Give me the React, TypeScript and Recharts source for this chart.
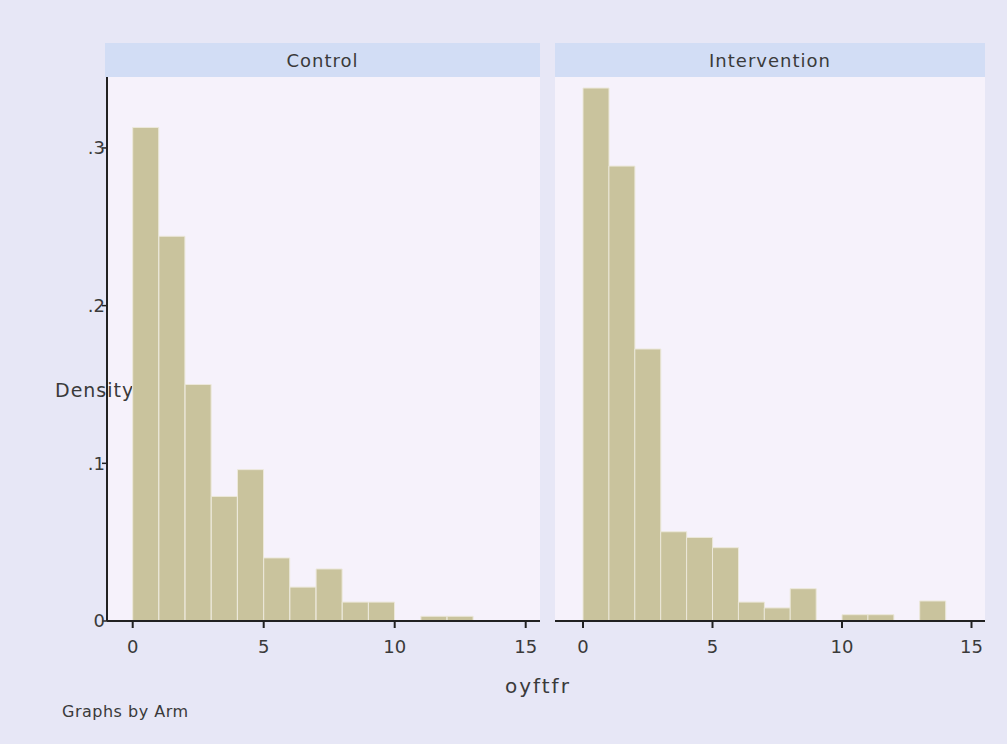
import React from "react";
import { BarChart, Bar, XAxis, YAxis } from "recharts";

const bins = ["0", "1", "2", "3", "4", "5", "6", "7", "8", "9", "10", "11", "12", "13", "14"];
const xTicks = [0, 5, 10, 15];
const yTicks = [0, 0.1, 0.2, 0.3];
const controlDensity = [0.313, 0.244, 0.15, 0.079, 0.096, 0.04, 0.0215, 0.033, 0.012, 0.012, 0, 0.003, 0.003, 0, 0];
const interventionDensity = [0.338, 0.2885, 0.1725, 0.0566, 0.053, 0.0465, 0.012, 0.0083, 0.0205, 0, 0.004, 0.004, 0, 0.0127, 0];
const panelTitles = ["Control", "Intervention"];
const xLabel = "oyftfr";
const yLabel = "Density";
const note = "Graphs by Arm";

const data = bins.map((b, i) => ({
  bin: b,
  start: Number(b),
  control: controlDensity[i],
  intervention: interventionDensity[i],
}));

const FONT = "'DejaVu Sans', sans-serif";
const TEXT = "#3a3a3a";
const AXIS = "#222";
const BAR_FILL = "#c9c39d";
const BAR_STROKE = "#ece8da";
const OUTER_BG = "#e7e7f6";
const PLOT_BG = "#f6f2fb";
const STRIP_BG = "#d2ddf5";

const yFmt = (v: number) => (v === 0 ? "0" : "." + Math.round(v * 10));

export default function App() {
  return (
    <div
      style={{
        position: "absolute",
        left: 0,
        top: 0,
        width: 1007,
        height: 744,
        background: OUTER_BG,
        fontFamily: FONT,
        overflow: "hidden",
      }}
    >
      {/* plot backgrounds */}
      <div style={{ position: "absolute", left: 107, top: 77, width: 433, height: 544, background: PLOT_BG }} />
      <div style={{ position: "absolute", left: 555, top: 77, width: 430, height: 544, background: PLOT_BG }} />
      {/* strips */}
      <div
        style={{
          position: "absolute", left: 105, top: 43, width: 435, height: 34, background: STRIP_BG,
          display: "flex", alignItems: "center", justifyContent: "center", fontSize: 18, color: TEXT, letterSpacing: 1,
        }}
      >
        {panelTitles[0]}
      </div>
      <div
        style={{
          position: "absolute", left: 555, top: 43, width: 430, height: 34, background: STRIP_BG,
          display: "flex", alignItems: "center", justifyContent: "center", fontSize: 18, color: TEXT, letterSpacing: 1,
        }}
      >
        {panelTitles[1]}
      </div>

      {/* y axis title (under the charts so axis line crosses it) */}
      <div style={{ position: "absolute", left: 55, top: 378, fontSize: 19, color: TEXT, lineHeight: "24px", letterSpacing: 1, whiteSpace: "nowrap" }}>
        {yLabel}
      </div>

      <div style={{ position: "absolute", left: 0, top: 0 }}>
        <BarChart
          width={560}
          height={744}
          data={data}
          margin={{ top: 77, right: 20, bottom: 83, left: 47 }}
          barCategoryGap={0}
          barGap={0}
        >
          <XAxis xAxisId="bin" dataKey="bin" type="category" hide height={0} padding={{ left: 25.7, right: 14.3 }} />
          <XAxis
            xAxisId="num"
            dataKey="start"
            type="number"
            domain={[0, 15]}
            ticks={xTicks}
            allowDataOverflow
            padding={{ left: 25.7, right: 14.3 }}
            height={40}
            axisLine={{ stroke: AXIS, strokeWidth: 2 }}
            tickLine={{ stroke: AXIS, strokeWidth: 2 }}
            tickSize={7}
            tickMargin={12}
            tick={{ fill: TEXT, fontSize: 18, fontFamily: FONT }}
          />
          <YAxis
            type="number"
            domain={[0, 0.345]}
            ticks={yTicks}
            allowDataOverflow
            width={60}
            tickFormatter={yFmt}
            axisLine={{ stroke: AXIS, strokeWidth: 2 }}
            tickLine={{ stroke: AXIS, strokeWidth: 1.5 }}
            tickSize={5}
            tickMargin={-3}
            tick={{ fill: TEXT, fontSize: 18, fontFamily: FONT }}
          />
          <Bar xAxisId="bin" dataKey="control" fill={BAR_FILL} stroke={BAR_STROKE} strokeWidth={1} isAnimationActive={false} />
        </BarChart>
      </div>

      <div style={{ position: "absolute", left: 540, top: 0 }}>
        <BarChart
          width={467}
          height={744}
          data={data}
          margin={{ top: 77, right: 22, bottom: 83, left: 15 }}
          barCategoryGap={0}
          barGap={0}
        >
          <XAxis xAxisId="bin" dataKey="bin" type="category" hide height={0} padding={{ left: 28, right: 13.5 }} />
          <XAxis
            xAxisId="num"
            dataKey="start"
            type="number"
            domain={[0, 15]}
            ticks={xTicks}
            allowDataOverflow
            padding={{ left: 28, right: 13.5 }}
            height={40}
            axisLine={{ stroke: AXIS, strokeWidth: 2 }}
            tickLine={{ stroke: AXIS, strokeWidth: 2 }}
            tickSize={7}
            tickMargin={12}
            tick={{ fill: TEXT, fontSize: 18, fontFamily: FONT }}
          />
          <YAxis type="number" domain={[0, 0.345]} ticks={yTicks} allowDataOverflow hide />
          <Bar xAxisId="bin" dataKey="intervention" fill={BAR_FILL} stroke={BAR_STROKE} strokeWidth={1} isAnimationActive={false} />
        </BarChart>
      </div>

      {/* axis titles */}
      <div style={{ position: "absolute", left: 505, top: 673, fontSize: 20, color: TEXT, letterSpacing: 2, lineHeight: "26px", whiteSpace: "nowrap" }}>
        {xLabel}
      </div>
      <div style={{ position: "absolute", left: 62, top: 702, fontSize: 16, color: TEXT, lineHeight: "20px", letterSpacing: 0.5, whiteSpace: "nowrap" }}>
        {note}
      </div>
    </div>
  );
}
